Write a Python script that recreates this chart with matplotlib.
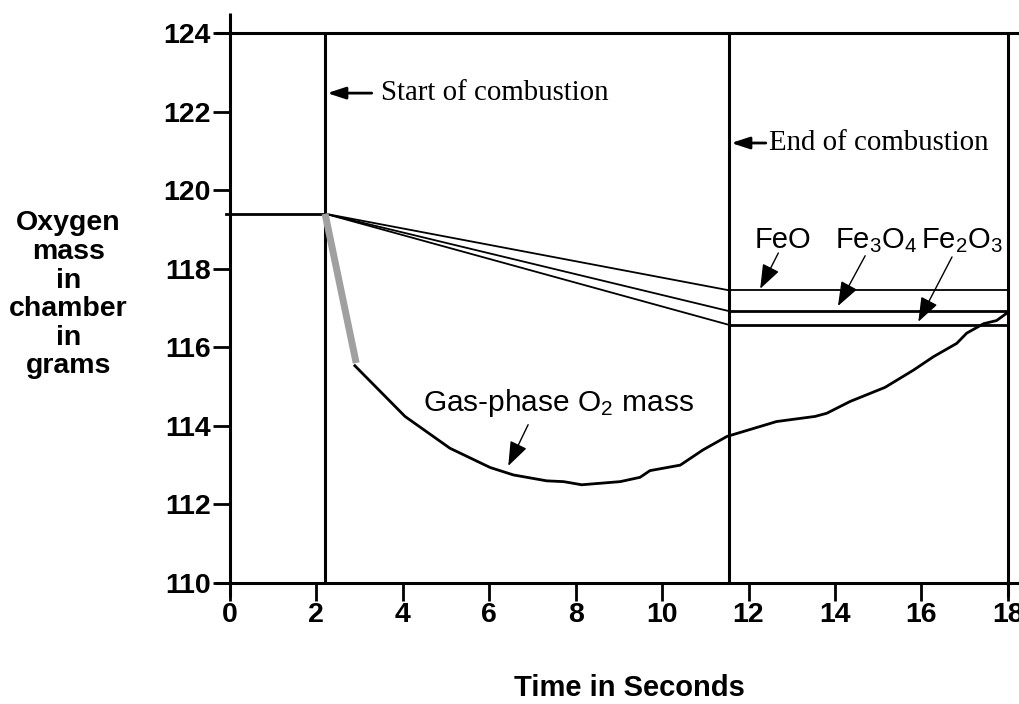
import matplotlib
matplotlib.use("Agg")
import matplotlib.pyplot as plt

plt.rcParams['font.family'] = ['Liberation Sans', 'DejaVu Sans']
plt.rcParams['mathtext.fontset'] = 'custom'
plt.rcParams['mathtext.rm'] = 'Liberation Sans'
plt.rcParams['mathtext.it'] = 'Liberation Sans:italic'

# data
start_t = 2.2
end_t = 11.55
initial_mass = 119.4
oxide_names = ['FeO', 'Fe$_3$O$_4$', 'Fe$_2$O$_3$']
oxide_final = [117.45, 116.92, 116.57]
oxide_lw = [1.3, 2.0, 2.0]

drop_t = [2.2, 2.92]
drop_m = [119.4, 115.6]

gas_t = [2.89, 4.05, 5.09, 6.02, 6.56, 7.33, 7.72, 8.14, 9.03, 9.49, 9.72,
         10.42, 10.95, 11.5, 12.65, 13.54, 13.81, 14.35, 15.16, 15.82,
         16.28, 16.82, 17.05, 17.44, 17.74, 17.98]
gas_m = [115.53, 114.24, 113.43, 112.94, 112.75, 112.6, 112.58, 112.5,
         112.58, 112.69, 112.86, 113.0, 113.39, 113.73, 114.11, 114.24,
         114.32, 114.62, 114.98, 115.42, 115.76, 116.1, 116.36, 116.6,
         116.68, 116.87]

xticks = [0, 2, 4, 6, 8, 10, 12, 14, 16, 18]
yticks = [110, 112, 114, 116, 118, 120, 122, 124]

fig = plt.figure(figsize=(10.2, 7.04), dpi=100)
ax = fig.add_axes([0.2255, 0.1719, 0.988 - 0.2255, 0.9531 - 0.1719])
ax.set_xlim(0, 18)
ax.set_ylim(110, 124)
for s in ax.spines.values():
    s.set_visible(False)

# frame lines drawn by hand (they run past the limits like in the original)
axlw = 2.2
ax.plot([0, 0], [109.64, 124.5], color='k', lw=axlw, clip_on=False, solid_capstyle='butt')
ax.plot([-0.35, 18.4], [110, 110], color='k', lw=axlw, clip_on=False, solid_capstyle='butt')
ax.plot([-0.35, 18.4], [124, 124], color='k', lw=axlw, clip_on=False, solid_capstyle='butt')
ax.plot([18, 18], [109.64, 124], color='k', lw=axlw, clip_on=False, solid_capstyle='butt')

ax.set_xticks(xticks)
ax.set_yticks(yticks)
ax.tick_params(axis='x', direction='out', length=13, width=2, pad=1, labelsize=20.5)
ax.tick_params(axis='y', direction='out', length=12, width=2, pad=2, labelsize=20.5)
for lab in ax.get_xticklabels() + ax.get_yticklabels():
    lab.set_fontweight('bold')
    lab.set_clip_on(False)

# combustion start / end
ax.plot([start_t, start_t], [110, 124], color='k', lw=2.2)
ax.plot([end_t, end_t], [110, 124], color='k', lw=2.2)
ax.plot([-0.1, start_t], [initial_mass, initial_mass], color='k', lw=2.0, clip_on=False)

for m, lw in zip(oxide_final, oxide_lw):
    ax.plot([start_t, end_t], [initial_mass, m], color='k', lw=1.3)
    ax.plot([end_t, 18], [m, m], color='k', lw=lw)

ax.plot(drop_t, drop_m, color='#a0a0a0', lw=5, solid_capstyle='butt')
ax.plot(gas_t, gas_m, color='k', lw=2.0)

harrow = dict(arrowstyle='-|>,head_length=0.55,head_width=0.18', mutation_scale=20,
              lw=2.0, color='k', shrinkA=0, shrinkB=0)
ax.annotate('', xy=(start_t + 0.05, 122.47), xytext=(3.28, 122.47), arrowprops=harrow)
ax.text(3.5, 122.47, 'Start of combustion', family='Liberation Serif', fontsize=20.8,
        va='center', ha='left')
ax.annotate('', xy=(end_t + 0.05, 121.2), xytext=(12.4, 121.2), arrowprops=harrow)
ax.text(12.48, 121.2, 'End of combustion', family='Liberation Serif', fontsize=20.8,
        va='center', ha='left')

darrow = dict(arrowstyle='-|>,head_length=0.75,head_width=0.28', mutation_scale=20,
              lw=1.0, color='k', shrinkA=0, shrinkB=0)
label_x = [12.8, 14.95, 16.95]
tails = [(12.69, 118.4), (14.7, 118.33), (16.71, 118.3)]
heads = [(12.27, 117.49), (14.07, 117.05), (15.93, 116.65)]
for name, lx, tl, hd in zip(oxide_names, label_x, tails, heads):
    ax.text(lx, 118.53, name, fontsize=21, ha='center', va='baseline')
    ax.annotate('', xy=hd, xytext=tl, arrowprops=darrow)

ax.text(7.6, 114.38, 'Gas-phase O$_2$ mass', fontsize=21.5, ha='center', va='baseline')
ax.annotate('', xy=(6.44, 112.98), xytext=(6.9, 114.03), arrowprops=darrow)

fig.text(0.067, 0.581, 'Oxygen\nmass\nin\nchamber\nin\ngrams', fontsize=20.5,
         fontweight='bold', ha='center', va='center', linespacing=1.13)
fig.text(0.617, 0.023, 'Time in Seconds', fontsize=21, fontweight='bold',
         ha='center', va='center')

fig.savefig('out.png', dpi=100)
